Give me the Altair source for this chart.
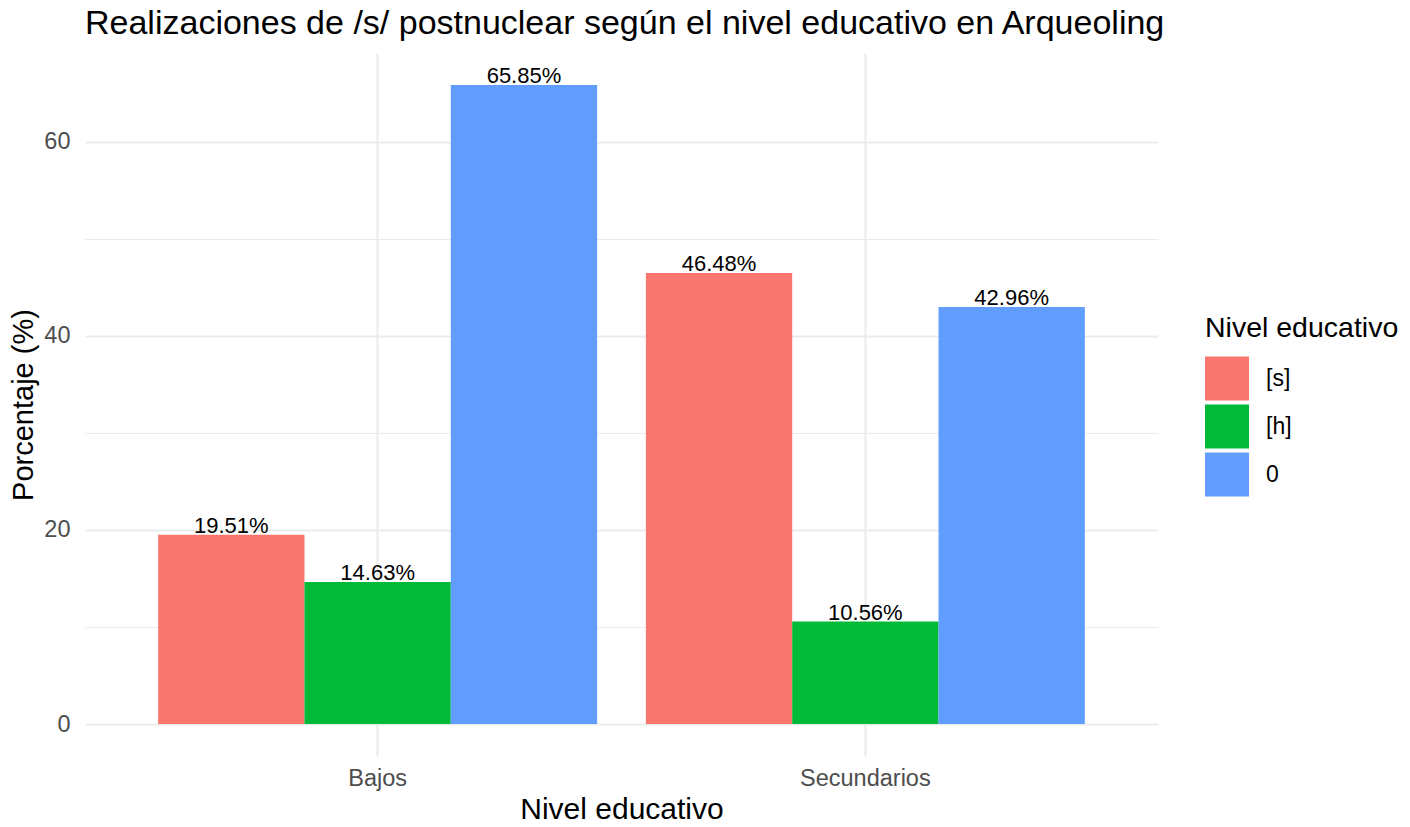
import altair as alt
import pandas as pd

niveles = ["Bajos", "Bajos", "Bajos", "Secundarios", "Secundarios", "Secundarios"]
realizaciones = ["[s]", "[h]", "0", "[s]", "[h]", "0"]
porcentajes = [19.51, 14.63, 65.85, 46.48, 10.56, 42.96]

orden = ["[s]", "[h]", "0"]
colores = ["#F8766D", "#00BA38", "#619CFF"]

df = pd.DataFrame({"nivel": niveles, "real": realizaciones, "pct": porcentajes})
df["etiqueta"] = df["pct"].map(lambda v: f"{v:.2f}%")

FONT = "Liberation Sans"
ymax = max(porcentajes)
ydom = [-0.05 * ymax, ymax * 1.05]

x_enc = alt.X(
    "nivel:N",
    title="Nivel educativo",
    scale=alt.Scale(paddingInner=0.1, paddingOuter=0.15),
    axis=alt.Axis(
        labelAngle=0, ticks=False, domain=False, grid=True, bandPosition=0.5,
        gridColor="#EBEBEB", gridWidth=2, labelFontSize=23.5, labelColor="#4D4D4D",
        labelPadding=10, titleFontSize=30, titleFontWeight="normal", titleColor="#000000",
        titlePadding=5, labelFont=FONT, titleFont=FONT,
    ),
)
xoff = alt.XOffset("real:N", sort=orden, scale=alt.Scale(paddingInner=0, paddingOuter=0))
y_enc = alt.Y(
    "pct:Q",
    title="Porcentaje (%)",
    scale=alt.Scale(domain=ydom, nice=False, zero=False),
    axis=alt.Axis(
        values=[0, 10, 20, 30, 40, 50, 60], labelExpr="datum.value % 20 === 0 ? datum.label : ''",
        ticks=False, domain=False, gridColor="#EBEBEB",
        gridWidth={"condition": {"test": "datum.value % 20 === 0", "value": 2}, "value": 1},
        labelFontSize=23.5, labelColor="#4D4D4D", labelPadding=15,
        titleFontSize=29, titleFontWeight="normal", titleColor="#000000", titlePadding=5,
        labelFont=FONT, titleFont=FONT,
    ),
)

base = alt.Chart(df)

bars = base.mark_bar().encode(
    x=x_enc,
    xOffset=xoff,
    y=y_enc,
    y2=alt.datum(0),
    color=alt.Color(
        "real:N",
        sort=orden,
        scale=alt.Scale(domain=orden, range=colores),
        title="Nivel educativo",
        legend=alt.Legend(
            orient="none", legendX=1120, legendY=261,
            titleFontSize=28.5, titleFontWeight="normal", titleColor="#000000", titleFont=FONT,
            titleLimit=400, labelLimit=300,
            labelFontSize=23, labelColor="#000000", labelFont=FONT,
            symbolType="square", symbolSize=1936, symbolStrokeWidth=0,
            symbolOpacity=1, rowPadding=4, labelOffset=17, titlePadding=14,
        ),
    ),
)

labels = base.mark_text(baseline="alphabetic", dy=-2, fontSize=22, font=FONT, color="#000000").encode(
    x=alt.X("nivel:N"),
    xOffset=alt.XOffset("real:N", sort=orden),
    y=alt.Y("pct:Q"),
    text="etiqueta:N",
)

chart = (
    alt.layer(bars, labels)
    .properties(
        width=1073,
        height=703,
        autosize=alt.AutoSizeParams(type="none"),
        padding={"left": 77, "top": 45, "right": 244, "bottom": 63},
        view=alt.ViewBackground(stroke="transparent", strokeWidth=0),
        title=alt.TitleParams(
            "Realizaciones de /s/ postnuclear según el nivel educativo en Arqueoling",
            anchor="start", frame="group", fontSize=34, fontWeight="normal",
            font=FONT, color="#000000", baseline="alphabetic", offset=0, dy=15,
        ),
    )
    .configure_view(stroke="transparent", strokeWidth=0)
    .configure(background="white")
)

chart.save("out.html", embed_options={"renderer": "svg", "actions": False})
